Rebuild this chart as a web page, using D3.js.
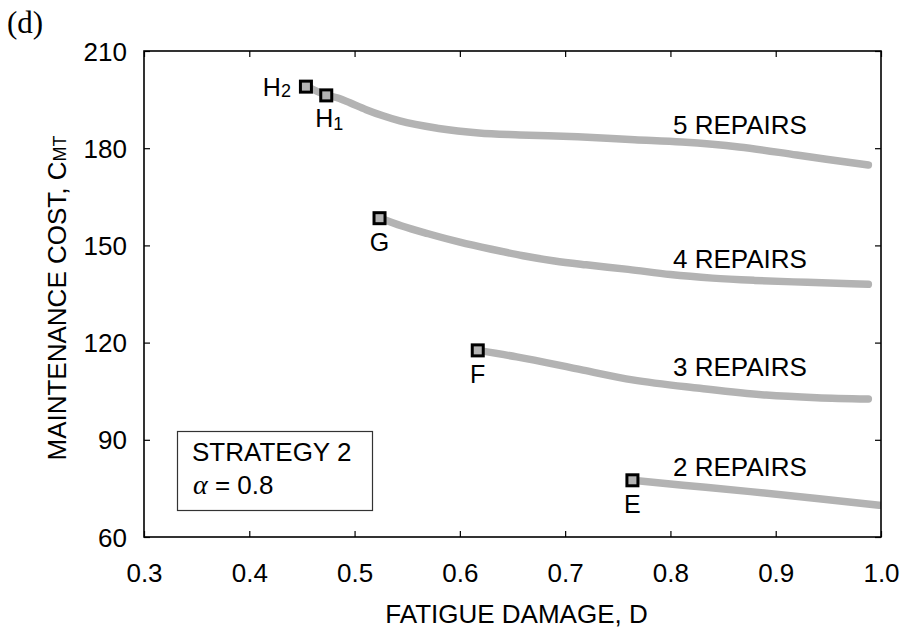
<!DOCTYPE html>
<html>
<head>
<meta charset="utf-8">
<script src="https://cdn.jsdelivr.net/npm/d3@7/dist/d3.min.js"></script>
<style>
  html, body { margin: 0; padding: 0; background: #fff; }
  svg { display: block; }
  text { font-family: "Liberation Sans", Arial, sans-serif; fill: #000; }
</style>
</head>
<body>
<svg id="chart" width="903" height="633"></svg>
<script>
// ---- data ----
const xTicks = [0.3, 0.4, 0.5, 0.6, 0.7, 0.8, 0.9, 1.0];
const yTicks = [60, 90, 120, 150, 180, 210];

const d5 = [0.454, 0.473, 0.485, 0.4956, 0.511, 0.527, 0.543, 0.580, 0.618, 0.657, 0.712, 0.766, 0.811, 0.865, 0.920, 0.948, 0.988];
const c5 = [199.2, 196.4, 195.4, 194.0, 191.9, 190.0, 188.4, 186.1, 184.7, 184.1, 183.5, 182.6, 181.9, 180.4, 177.9, 176.6, 174.8];

const d4 = [0.524, 0.545, 0.570, 0.600, 0.630, 0.660, 0.690, 0.720, 0.760, 0.800, 0.840, 0.880, 0.930, 0.988];
const c4 = [158.5, 156.0, 153.6, 151.0, 148.8, 146.8, 145.2, 144.0, 142.6, 141.0, 139.9, 139.2, 138.6, 138.0];

const d3r = [0.617, 0.654, 0.717, 0.764, 0.828, 0.891, 0.939, 0.988];
const c3r = [117.6, 115.6, 111.5, 108.5, 105.9, 103.8, 103.0, 102.6];

const d2 = [0.764, 0.812, 0.876, 0.939, 0.999];
const c2 = [77.5, 76.0, 74.0, 71.9, 69.8];

const markerNames = ["H2", "H1", "G", "F", "E"];
const markerD = [0.4538, 0.4731, 0.5237, 0.617, 0.7639];
const markerC = [199.0, 196.3, 158.4, 117.6, 77.5];

const curveLabels = ["5 REPAIRS", "4 REPAIRS", "3 REPAIRS", "2 REPAIRS"];
const curveLabelD = [0.866, 0.866, 0.866, 0.866];
const curveLabelC = [184.3, 142.9, 109.7, 78.8];

// ---- layout ----
const svg = d3.select("#chart");
const L = 144, R = 881, T = 51, B = 537;
const x = d3.scaleLinear().domain([0.3, 1.0]).range([L, R]);
const y = d3.scaleLinear().domain([60, 210]).range([B, T]);
const FONT = "Liberation Sans, Arial, sans-serif";

svg.append("defs").append("clipPath").attr("id", "plotclip")
  .append("rect").attr("x", L).attr("y", T).attr("width", R - L).attr("height", B - T);

// curves
const series = [[d5, c5], [d4, c4], [d3r, c3r], [d2, c2]];
const line = d3.line().x(p => x(p[0])).y(p => y(p[1])).curve(d3.curveMonotoneX);
const g = svg.append("g").attr("clip-path", "url(#plotclip)");
series.forEach(([ds, cs]) => {
  g.append("path")
    .attr("d", line(ds.map((d, i) => [d, cs[i]])))
    .attr("fill", "none")
    .attr("stroke", "#b3b3b3")
    .attr("stroke-width", 7.5)
    .attr("stroke-linecap", "round")
    .attr("stroke-linejoin", "round");
});

// axes (ticks inward, mirrored)
const tickLen = 6;
svg.append("g").attr("transform", `translate(0,${B})`)
  .call(d3.axisBottom(x).tickValues(xTicks).tickSize(-tickLen).tickSizeOuter(0).tickFormat(d3.format(".1f")))
  .call(a => { a.select(".domain").remove(); a.selectAll("text").attr("dy", 0).attr("y", 45).style("font-size", "26px").style("font-family", FONT); a.selectAll("line").attr("stroke-width", 1.2); });
svg.append("g").attr("transform", `translate(0,${T})`)
  .call(d3.axisTop(x).tickValues(xTicks).tickSize(-tickLen).tickSizeOuter(0).tickFormat(""))
  .call(a => { a.select(".domain").remove(); a.selectAll("line").attr("stroke-width", 1.2); });
svg.append("g").attr("transform", `translate(${L},0)`)
  .call(d3.axisLeft(y).tickValues(yTicks).tickSize(-tickLen).tickSizeOuter(0))
  .call(a => { a.select(".domain").remove(); a.selectAll("text").attr("x", -17).attr("dy", "0.35em").style("font-size", "26px").style("font-family", FONT); a.selectAll("line").attr("stroke-width", 1.2); });
svg.append("g").attr("transform", `translate(${R},0)`)
  .call(d3.axisRight(y).tickValues(yTicks).tickSize(-tickLen).tickSizeOuter(0).tickFormat(""))
  .call(a => { a.select(".domain").remove(); a.selectAll("line").attr("stroke-width", 1.2); });

// frame
svg.append("rect").attr("x", L).attr("y", T).attr("width", R - L).attr("height", B - T)
  .attr("fill", "none").attr("stroke", "#000").attr("stroke-width", 1.6);

// markers
markerD.forEach((d, i) => {
  svg.append("rect")
    .attr("x", x(d) - 5.5).attr("y", y(markerC[i]) - 5.5)
    .attr("width", 11).attr("height", 11)
    .attr("fill", "#b3b3b3").attr("stroke", "#000").attr("stroke-width", 3);
});

// marker labels
function subLabel(sel, main, sub, dyS) {
  sel.append("tspan").text(main);
  sel.append("tspan").text(sub).style("font-size", "18px").attr("dy", dyS);
}
markerNames.forEach((nm, i) => {
  const cx = x(markerD[i]), cy = y(markerC[i]);
  const t = svg.append("text").style("font-size", "25px");
  if (nm === "H2") {
    t.attr("x", cx - 15).attr("y", cy + 9).attr("text-anchor", "end");
    subLabel(t, "H", "2", 1);
  } else if (nm === "H1") {
    t.attr("x", cx - 11).attr("y", cy + 32).attr("text-anchor", "start");
    subLabel(t, "H", "1", 3);
  } else {
    t.attr("x", cx).attr("y", cy + 33).attr("text-anchor", "middle").text(nm);
  }
});

// curve labels
curveLabels.forEach((lb, i) => {
  svg.append("text").attr("x", x(curveLabelD[i])).attr("y", y(curveLabelC[i]))
    .attr("text-anchor", "middle").style("font-size", "26px").text(lb);
});

// legend box
svg.append("rect").attr("x", 177.5).attr("y", 431.5).attr("width", 195).attr("height", 79)
  .attr("fill", "#fff").attr("stroke", "#333").attr("stroke-width", 1.2);
svg.append("text").attr("x", 192).attr("y", 461).style("font-size", "26px").text("STRATEGY 2");
const al = svg.append("text").attr("x", 193).attr("y", 494).style("font-size", "26px");
al.append("tspan").text("α").style("font-family", "Liberation Serif, Times New Roman, serif").style("font-style", "italic").style("font-size", "28px");
al.append("tspan").text(" = 0.8");

// axis titles
svg.append("text").attr("x", (L + R) / 2 + 4).attr("y", 623).attr("text-anchor", "middle")
  .style("font-size", "26px").text("FATIGUE DAMAGE, D");
const yt = svg.append("text").attr("transform", `translate(66,${(T + B) / 2 + 4}) rotate(-90)`)
  .attr("text-anchor", "middle").style("font-size", "26px");
yt.append("tspan").text("MAINTENANCE COST, C");
yt.append("tspan").text("MT").style("font-size", "18px");

// panel tag
svg.append("text").attr("x", 7).attr("y", 33)
  .style("font-family", "Liberation Serif, Times New Roman, serif").style("font-size", "31px").text("(d)");
</script>
</body>
</html>
